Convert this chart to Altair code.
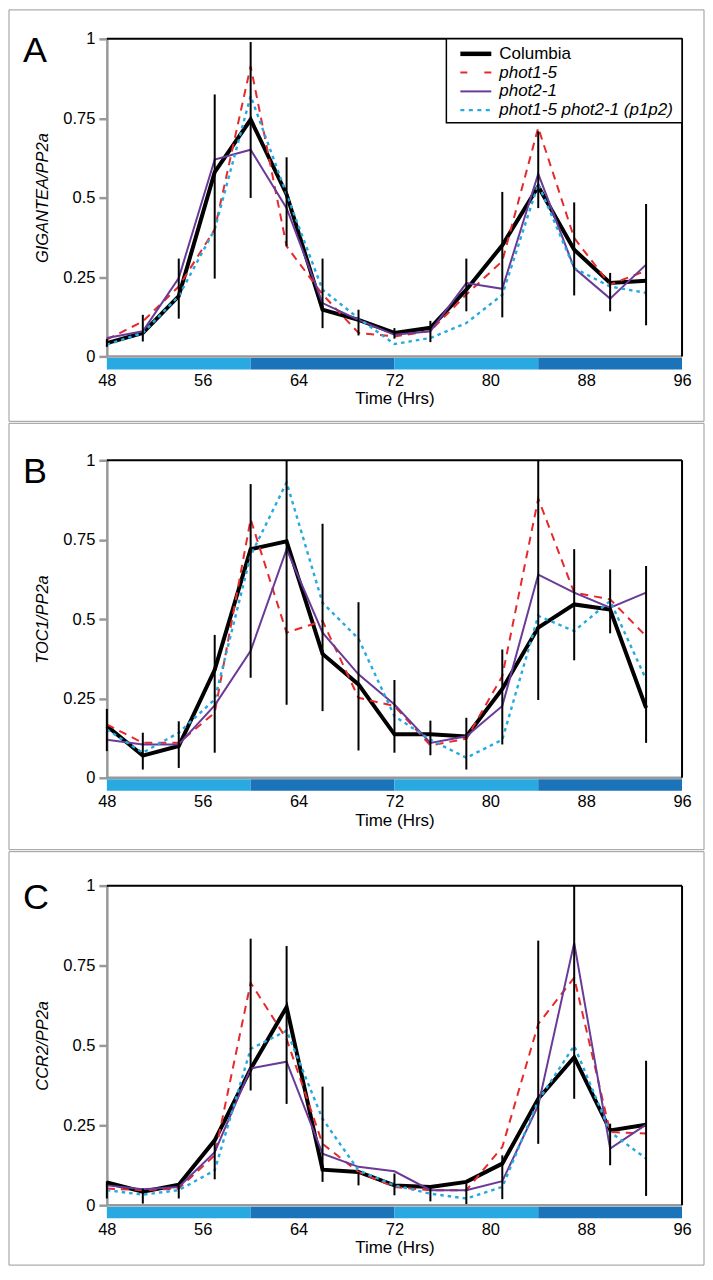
import altair as alt
import pandas as pd

# ---------------- data ----------------
hours = [48, 51, 54, 57, 60, 63, 66, 69, 72, 75, 78, 81, 84, 87, 90, 93]
series = ["Columbia", "phot1-5", "phot2-1", "phot1-5 phot2-1 (p1p2)"]

# Panel A: GIGANTEA/PP2a
gi_col = [0.042, 0.074, 0.19, 0.58, 0.746, 0.51, 0.147, 0.115, 0.074, 0.09, 0.21, 0.35, 0.535, 0.336, 0.231, 0.238]
gi_p1 = [0.053, 0.11, 0.22, 0.40, 0.914, 0.347, 0.195, 0.074, 0.063, 0.08, 0.195, 0.30, 0.72, 0.373, 0.226, 0.27]
gi_p2 = [0.058, 0.079, 0.247, 0.62, 0.651, 0.467, 0.168, 0.115, 0.068, 0.079, 0.231, 0.213, 0.575, 0.278, 0.182, 0.289]
gi_p1p2 = [0.037, 0.074, 0.19, 0.40, 0.82, 0.51, 0.21, 0.12, 0.039, 0.058, 0.105, 0.194, 0.543, 0.278, 0.22, 0.20]
gi_lo = [0.03, 0.047, 0.119, 0.245, 0.499, 0.347, 0.089, 0.066, 0.056, 0.045, 0.142, 0.123, 0.467, 0.192, 0.142, 0.098]
gi_hi = [0.055, 0.131, 0.308, 0.825, 0.99, 0.627, 0.308, 0.147, 0.089, 0.112, 0.308, 0.518, 0.709, 0.485, 0.263, 0.48]

# Panel B: TOC1/PP2a
toc_col = [0.163, 0.07, 0.10, 0.34, 0.72, 0.745, 0.39, 0.294, 0.137, 0.137, 0.13, 0.28, 0.473, 0.546, 0.53, 0.22]
toc_p1 = [0.168, 0.11, 0.11, 0.205, 0.814, 0.457, 0.494, 0.252, 0.226, 0.102, 0.123, 0.32, 0.879, 0.583, 0.562, 0.446]
toc_p2 = [0.12, 0.105, 0.105, 0.228, 0.40, 0.72, 0.457, 0.326, 0.231, 0.11, 0.131, 0.226, 0.64, 0.583, 0.536, 0.583]
toc_p1p2 = [0.152, 0.079, 0.142, 0.247, 0.70, 0.93, 0.551, 0.438, 0.194, 0.12, 0.063, 0.12, 0.51, 0.462, 0.557, 0.31]
toc_lo = [0.084, 0.026, 0.031, 0.079, 0.315, 0.23, 0.21, 0.086, 0.079, 0.071, 0.026, 0.105, 0.245, 0.37, 0.455, 0.11]
toc_hi = [0.217, 0.142, 0.178, 0.45, 0.925, 1.0, 0.80, 0.553, 0.308, 0.18, 0.189, 0.404, 1.0, 0.72, 0.656, 0.667]

# Panel C: CCR2/PP2a
ccr_col = [0.071, 0.042, 0.064, 0.203, 0.426, 0.62, 0.111, 0.104, 0.062, 0.057, 0.073, 0.13, 0.333, 0.463, 0.234, 0.252]
ccr_p1 = [0.052, 0.047, 0.052, 0.156, 0.696, 0.52, 0.192, 0.104, 0.057, 0.047, 0.047, 0.182, 0.567, 0.712, 0.229, 0.224]
ccr_p2 = [0.062, 0.05, 0.057, 0.166, 0.428, 0.449, 0.161, 0.12, 0.106, 0.047, 0.047, 0.075, 0.312, 0.821, 0.177, 0.252]
ccr_p1p2 = [0.047, 0.033, 0.047, 0.109, 0.489, 0.546, 0.27, 0.109, 0.062, 0.036, 0.021, 0.057, 0.327, 0.499, 0.229, 0.146]
ccr_lo = [0.021, 0.005, 0.021, 0.081, 0.359, 0.317, 0.073, 0.062, 0.031, 0.012, 0.0, 0.019, 0.192, 0.333, 0.125, 0.029]
ccr_hi = [0.075, 0.052, 0.062, 0.208, 0.834, 0.811, 0.371, 0.104, 0.099, 0.052, 0.068, 0.156, 0.828, 1.0, 0.255, 0.452]

# light / dark periods (colour bar)
phase_start = [48, 60, 72, 84]
phase_end = [60, 72, 84, 96]
phase_kind = ["light", "dark", "light", "dark"]

x_ticks = [48, 56, 64, 72, 80, 88, 96]
y_ticks = [0, 0.25, 0.5, 0.75, 1]

# ---------------- styles ----------------
FONT = "Liberation Sans"
W = 576
LIGHT = "#29a9e1"
DARK = "#1b73b9"
GRAY = "#999999"
styles = {
    "Columbia": dict(color="black", strokeWidth=4),
    "phot1-5": dict(color="#e62a2c", strokeWidth=2, strokeDash=[8, 6]),
    "phot2-1": dict(color="#6a3a98", strokeWidth=2),
    "phot1-5 phot2-1 (p1p2)": dict(color="#25a9e0", strokeWidth=2.4, strokeDash=[3.5, 4]),
}
legend_dash = {"phot1-5": [7, 17], "phot1-5 phot2-1 (p1p2)": [4, 4.5]}
draw_order = ["Columbia", "phot1-5", "phot2-1", "phot1-5 phot2-1 (p1p2)"]

one = pd.DataFrame({"k": [0]})


def panel(letter, ytitle, vals, lo, hi, H, top_off, bot_off, with_legend=False):
    rows = []
    for s, v in zip(series, vals):
        for t, y in zip(hours, v):
            rows.append({"t": t, "series": s, "value": y})
    df = pd.DataFrame(rows)
    err = pd.DataFrame({"t": hours, "lo": lo, "hi": hi})
    ph = pd.DataFrame({"start": phase_start, "end": phase_end, "phase": phase_kind})

    xscale = alt.Scale(domain=[48, 96], nice=False, zero=False)
    yscale = alt.Scale(domain=[0, 1], nice=False, zero=True)
    xaxis = alt.Axis(values=x_ticks, title="Time (Hrs)", domain=False, ticks=False, grid=False,
                     offset=13, labelPadding=3, labelFlush=False, labelOverlap=False,
                     labelFontSize=16.5, labelColor="black", titleFontSize=17,
                     titleFontWeight="normal", titleColor="black", titlePadding=2)
    yaxis = alt.Axis(values=y_ticks, labelExpr="'' + datum.value", title=ytitle, grid=False,
                     domainColor=GRAY, domainWidth=2.5, tickColor=GRAY, tickWidth=2.5, tickSize=8,
                     labelPadding=4, labelFlush=False, labelOverlap=False, labelFontSize=16.5,
                     labelColor="black", titleFontSize=16.5, titleFontStyle="italic",
                     titleFontWeight="normal", titleColor="black", titlePadding=12)

    def X(field):
        return alt.X(field, scale=xscale, axis=xaxis)

    def Y(field):
        return alt.Y(field, scale=yscale, axis=yaxis)

    layers = []
    # outer frame
    layers.append(alt.Chart(one).mark_rect(fill="transparent", stroke=GRAY, strokeWidth=1).encode(
        x=alt.value(-98), x2=alt.value(598), y=alt.value(-top_off), y2=alt.value(bot_off)))
    # colour bar
    layers.append(alt.Chart(ph).mark_rect().encode(
        x=X("start:Q"), x2="end:Q", y=alt.value(H + 1.5), y2=alt.value(H + 13),
        color=alt.Color("phase:N", scale=alt.Scale(domain=["light", "dark"], range=[LIGHT, DARK]),
                        legend=None)))
    # series lines
    for s in draw_order:
        layers.append(alt.Chart(df).transform_filter(alt.datum.series == s).mark_line(
            **styles[s]).encode(x=X("t:Q"), y=Y("value:Q")))
    # error bars
    layers.append(alt.Chart(err).mark_rule(color="black", strokeWidth=2).encode(
        x=X("t:Q"), y=Y("lo:Q"), y2="hi:Q"))
    # box lines
    layers.append(alt.Chart(one).mark_rule(color=GRAY, strokeWidth=2.5).encode(
        x=alt.value(0), x2=alt.value(W), y=alt.value(H)))
    layers.append(alt.Chart(one).mark_rule(color="black", strokeWidth=2).encode(
        x=alt.value(0), x2=alt.value(W), y=alt.value(0)))
    layers.append(alt.Chart(one).mark_rule(color="black", strokeWidth=2).encode(
        x=alt.value(W), y=alt.value(0), y2=alt.value(H)))
    # panel letter
    layers.append(alt.Chart(one).mark_text(text=letter, font=FONT, fontSize=36, align="left",
                                           baseline="alphabetic", color="black").encode(
        x=alt.value(-84), y=alt.value(23)))
    if with_legend:
        layers.append(alt.Chart(one).mark_rect(fill="white", stroke="black", strokeWidth=1.5).encode(
            x=alt.value(340), x2=alt.value(W), y=alt.value(0), y2=alt.value(84)))
        for i, s in enumerate(series):
            yy = 15 + 18.8 * i
            st = dict(styles[s])
            if s in legend_dash:
                st["strokeDash"] = legend_dash[s]
            if s == "Columbia":
                st["strokeWidth"] = 4.5
            layers.append(alt.Chart(one).mark_rule(**st).encode(
                x=alt.value(354), x2=alt.value(385), y=alt.value(yy)))
            layers.append(alt.Chart(one).mark_text(
                text=s, font=FONT, fontSize=17, align="left", baseline="middle", color="black",
                fontStyle="normal" if s == "Columbia" else "italic").encode(
                x=alt.value(393), y=alt.value(yy)))
    return alt.layer(*layers).properties(width=W, height=H)


pA = panel("A", "GIGANTEA/PP2a", [gi_col, gi_p1, gi_p2, gi_p1p2], gi_lo, gi_hi, 318, 29, 383, True)
pB = panel("B", "TOC1/PP2a", [toc_col, toc_p1, toc_p2, toc_p1p2], toc_lo, toc_hi, 318, 37, 390)
pC = panel("C", "CCR2/PP2a", [ccr_col, ccr_p1, ccr_p2, ccr_p1p2], ccr_lo, ccr_hi, 320, 34, 380)

chart = alt.vconcat(pA, pB, pC, spacing=0).properties(padding=0).configure(
    font=FONT).configure_view(strokeWidth=0).configure_axis(labelFont=FONT, titleFont=FONT)

chart.save("out.html", embed_options={"renderer": "svg", "actions": False})
